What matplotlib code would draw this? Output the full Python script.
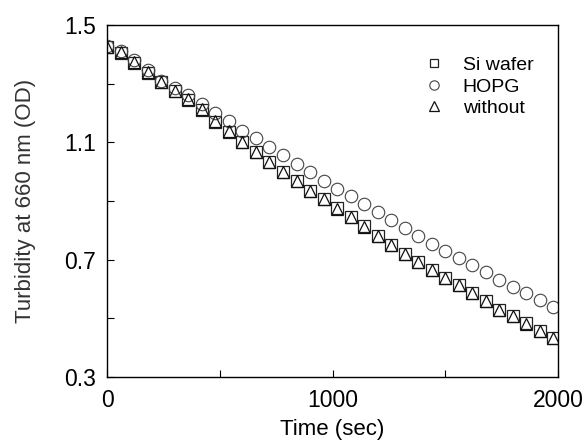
import matplotlib
matplotlib.use("Agg")
import matplotlib.pyplot as plt
import numpy as np

plt.rcParams['font.family'] = ['Liberation Sans', 'DejaVu Sans']

# time points (sec), one reading every 60 s
time = np.arange(0, 2000, 60)

si_wafer = [1.425, 1.405, 1.372, 1.338, 1.305, 1.274, 1.244, 1.210, 1.170, 1.136,
            1.100, 1.066, 1.032, 0.998, 0.967, 0.934, 0.906, 0.875, 0.846, 0.813,
            0.781, 0.749, 0.720, 0.691, 0.664, 0.636, 0.612, 0.586, 0.559, 0.528,
            0.508, 0.482, 0.458, 0.434]
hopg = [1.430, 1.410, 1.380, 1.345, 1.310, 1.286, 1.260, 1.229, 1.200, 1.171,
        1.140, 1.113, 1.083, 1.056, 1.025, 0.998, 0.968, 0.942, 0.917, 0.890,
        0.863, 0.836, 0.808, 0.781, 0.754, 0.729, 0.707, 0.680, 0.656, 0.629,
        0.608, 0.585, 0.561, 0.537]
without = [1.425, 1.408, 1.375, 1.340, 1.307, 1.276, 1.246, 1.212, 1.171, 1.137,
           1.100, 1.066, 1.032, 0.998, 0.968, 0.934, 0.907, 0.874, 0.846, 0.812,
           0.781, 0.748, 0.720, 0.690, 0.663, 0.636, 0.612, 0.585, 0.558, 0.527,
           0.507, 0.480, 0.456, 0.432]

fig = plt.figure(figsize=(5.86, 4.47), dpi=100)
ax = fig.add_axes([0.183, 0.157, 0.769, 0.787])

ax.plot(time, si_wafer, 's', ms=8, mfc='none', mec='#222222', mew=0.9, label='Si wafer')
ax.plot(time, hopg, 'o', ms=9, mfc='none', mec='#444444', mew=0.8, label='HOPG')
ax.plot(time, without, '^', ms=9, mfc='none', mec='#111111', mew=0.9, label='without')

ax.set_xlim(0, 2000)
ax.set_ylim(0.3, 1.5)
ax.set_xticks([0, 1000, 2000])
ax.set_xticks([500, 1500], minor=True)
ax.set_yticks([0.3, 0.7, 1.1, 1.5])
ax.set_yticks([0.5, 0.9, 1.3], minor=True)
ax.tick_params(direction='in', which='both', labelsize=16.5, length=5, width=0.8)
ax.tick_params(axis='x', pad=9)
ax.tick_params(axis='y', pad=8)
for s in ax.spines.values():
    s.set_linewidth(1.0)

ax.set_xlabel('Time (sec)', fontsize=16, labelpad=5)
ax.set_ylabel('Turbidity at 660 nm (OD)', fontsize=16, color='#333333', labelpad=20)

ax.legend(loc='upper right', bbox_to_anchor=(0.985, 0.96), frameon=False, fontsize=14,
          markerscale=0.75, handletextpad=0.5, labelspacing=0.2)

fig.savefig('out.png', dpi=100)
